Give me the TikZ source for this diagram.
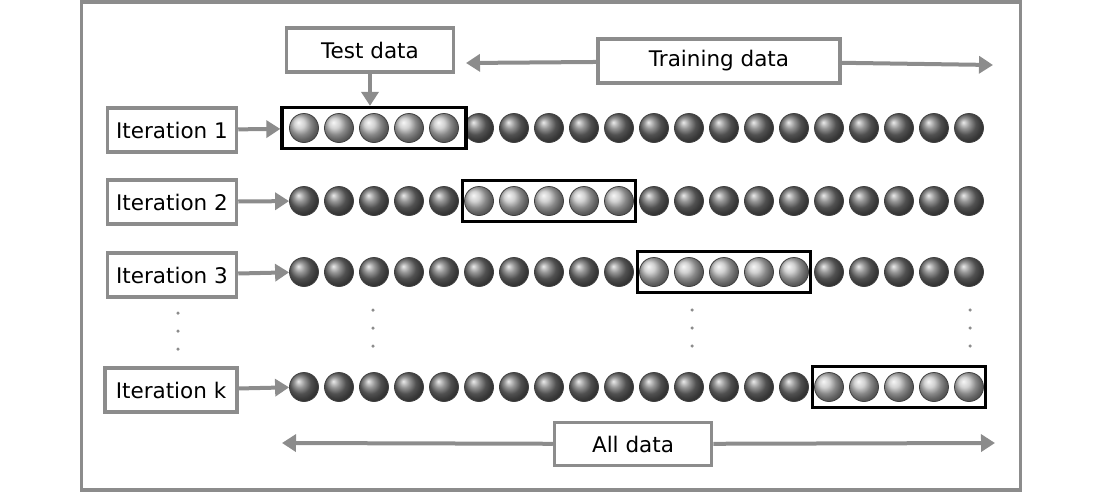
\documentclass[tikz,border=0pt]{standalone}
\usepackage{fontspec}
\setmainfont{DejaVu Sans}
\usetikzlibrary{arrows.meta,fit,positioning}
\definecolor{framegray}{HTML}{8C8C8C}
\begin{document}
\begin{tikzpicture}[x=1pt,y=-1pt,
  line width=3.5pt,
  label node/.style={draw=framegray,fill=white,font=\fontsize{21.5}{25}\selectfont,inner sep=0pt,minimum height=44pt},
  ball/.style={circle,draw=black!75,line width=.8pt,shading=ball,ball color=#1,minimum size=29pt,inner sep=0pt},
  test box/.style={draw=black,inner ysep=5.5pt},
  grey arrow/.style={draw=framegray,line width=4pt,-{Triangle[length=14pt,width=17pt]}},
  dot/.style={circle,fill=framegray,inner sep=0pt,minimum size=3.5pt}]

  \useasboundingbox (0,0) rectangle (1101,493);
  \draw[framegray] (81.5,2) rectangle (1020.5,490);

  % rows of data
  \foreach \r/\y/\s in {1/128/1,2/201/6,3/272/11,4/387/16} {
    \foreach \i in {1,...,20} {
      \pgfmathtruncatemacro{\lit}{and(\i>=\s,\i<=\s+4)}
      \ifnum\lit=1 \def\ballcol{black!24}\else\def\ballcol{black!55}\fi
      \node[ball=\ballcol] (b\r-\i) at ({304+35*(\i-1)},\y) {};
    }
  }

  \node[test box,inner xsep=7pt,fit=(b1-1)(b1-5)] (box1) {};
  \node[test box,inner xsep=1.5pt,fit=(b2-6)(b2-10)] (box2) {};
  \node[test box,inner xsep=1.5pt,fit=(b3-11)(b3-15)] (box3) {};
  \node[test box,inner xsep=1.5pt,fit=(b4-16)(b4-20)] (box4) {};

  \node[label node,minimum width=129pt] (it1) at (172,130) {Iteration 1};
  \node[label node,minimum width=129pt] (it2) at (172,202) {Iteration 2};
  \node[label node,minimum width=129pt] (it3) at (172,275) {Iteration 3};
  \node[label node,minimum width=132pt] (itk) at (171,390) {Iteration k};

  \node[label node,minimum width=167pt] (test) at (370,50) {Test data};
  \node[label node,minimum width=242pt] (train) at (719,61) {Training data};
  \node[label node,minimum width=157pt,minimum height=43pt] (all) at (633,444) {All data};

  \coordinate (trainL) at (466,63);
  \coordinate (trainR) at (993,65);
  \coordinate (allL) at (282,443);
  \coordinate (allR) at (995,443);
  \coordinate (testT) at (test.south |- box1.north);

  \draw[grey arrow] (it1) -- (box1);
  \draw[grey arrow] (it2) -- (b2-1);
  \draw[grey arrow] (it3) -- (b3-1);
  \draw[grey arrow] (itk) -- (b4-1);
  \draw[grey arrow] (test.south) -- (testT);
  \draw[grey arrow] (train) -- (trainL);
  \draw[grey arrow] (train) -- (trainR);
  \draw[grey arrow] (all) -- (allL);
  \draw[grey arrow] (all) -- (allR);

  % vertical dots
  \foreach \x/\y in {178/313,373/310,692/310,970/310} {
    \node[dot] (d\x a) at (\x,\y) {};
    \node[dot] (d\x b) at (\x,\y+18) {};
    \node[dot] (d\x c) at (\x,\y+36) {};
  }
\end{tikzpicture}
\end{document}
